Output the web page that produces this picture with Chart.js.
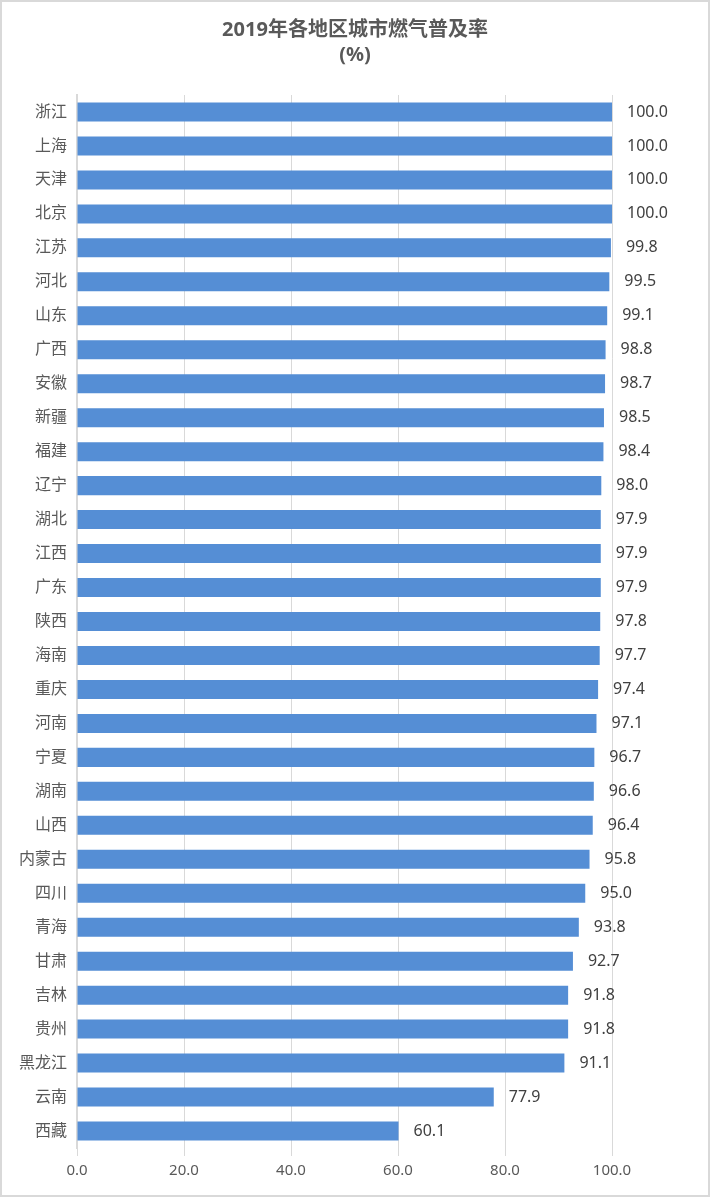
<!DOCTYPE html>
<html>
<head>
<meta charset="utf-8">
<script src="https://cdn.jsdelivr.net/npm/chart.js@4.4.1/dist/chart.umd.min.js"></script>
<style>
html, body { margin: 0; padding: 0; background: #fff; }
#wrap { width: 710px; height: 1197px; box-sizing: border-box; border: 2px solid #d9d9d9; position: relative; }
</style>
</head>
<body>
<div id="wrap"><canvas id="barChart"></canvas></div>
<script>
// data
var regions = ["浙江", "上海", "天津", "北京", "江苏", "河北", "山东", "广西", "安徽", "新疆", "福建",
  "辽宁", "湖北", "江西", "广东", "陕西", "海南", "重庆", "河南", "宁夏", "湖南", "山西",
  "内蒙古", "四川", "青海", "甘肃", "吉林", "贵州", "黑龙江", "云南", "西藏"];
var gasRate = [100.0, 100.0, 100.0, 100.0, 99.8, 99.5, 99.1, 98.8, 98.7, 98.5, 98.4,
  98.0, 97.9, 97.9, 97.9, 97.8, 97.7, 97.4, 97.1, 96.7, 96.6, 96.4,
  95.8, 95.0, 93.8, 92.7, 91.8, 91.8, 91.1, 77.9, 60.1];
var xTicks = [0, 20, 40, 60, 80, 100];
var titleLines = ['2019年各地区城市燃气普及率', '(%)'];

var font = '"Noto Sans", "Noto Sans CJK SC", sans-serif';

// title centred on the whole canvas + value labels at the bar ends
var extras = {
  id: 'extras',
  afterDatasetsDraw: function(chart) {
    var ctx = chart.ctx;
    var meta = chart.getDatasetMeta(0);
    ctx.save();
    ctx.font = '16px ' + font;
    ctx.fillStyle = '#404040';
    ctx.textAlign = 'left';
    ctx.textBaseline = 'middle';
    meta.data.forEach(function(bar, i) {
      ctx.fillText(gasRate[i].toFixed(1), bar.x + 15, bar.y);
    });
    ctx.font = 'bold 20px ' + font;
    ctx.fillStyle = '#595959';
    ctx.textAlign = 'center';
    titleLines.forEach(function(t, i) {
      ctx.fillText(t, chart.width / 2, 28 + i * 25);
    });
    ctx.restore();
  }
};

var ctxB = document.getElementById("barChart").getContext('2d');
var myBarChart = new Chart(ctxB, {
  type: 'bar',
  data: {
    labels: regions,
    datasets: [{
      label: "城市燃气普及率",
      data: gasRate,
      backgroundColor: '#558ed5',
      borderWidth: 0,
      categoryPercentage: 0.56,
      barPercentage: 1
    }]
  },
  options: {
    indexAxis: 'y',
    responsive: true,
    maintainAspectRatio: false,
    animation: false,
    layout: { padding: { left: 0, right: 96, top: 93, bottom: 0 } },
    plugins: {
      legend: { display: false },
      tooltip: { enabled: false },
      title: { display: false }
    },
    scales: {
      x: {
        min: 0,
        max: 100,
        afterBuildTicks: function(scale) {
          scale.ticks = xTicks.map(function(v) { return { value: v }; });
        },
        afterFit: function(scale) { scale.height = 47; },
        ticks: {
          color: '#595959',
          font: { family: font, size: 15 },
          padding: 6,
          callback: function(v) { return Number(v).toFixed(1); }
        },
        grid: { color: '#d9d9d9', lineWidth: 1, tickLength: 8, drawTicks: true },
        border: { display: false }
      },
      y: {
        afterFit: function(scale) { scale.width = 75; },
        ticks: {
          color: '#595959',
          font: { family: font, size: 16 },
          padding: 10,
          autoSkip: false
        },
        grid: { display: false, drawTicks: false },
        border: { display: true, color: '#d9d9d9', width: 2 }
      }
    }
  },
  plugins: [extras]
});
</script>
</body>
</html>
